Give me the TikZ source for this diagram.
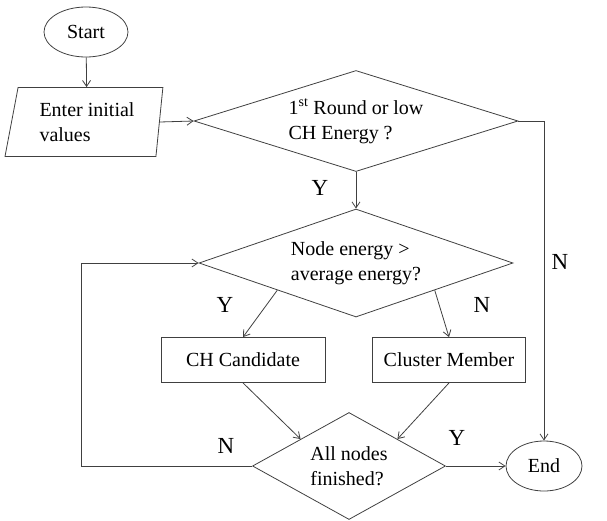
\documentclass[tikz,border=0pt]{standalone}
\usepackage{fontspec}
\setmainfont{Liberation Serif}
\usetikzlibrary{shapes.geometric,arrows.meta}
\begin{document}
\begin{tikzpicture}[x=1pt,y=-1pt,>={Straight Barb[length=6pt,width=8pt]},
	every node/.style={font=\fontsize{20}{25}\selectfont,inner sep=0pt},
	line/.style={draw=black!75,line width=0.8pt},
	terminal/.style={line,ellipse,minimum height=50},
	inout/.style={line,trapezium,trapezium left angle=77,trapezium right angle=97,
		trapezium stretches=true,minimum width=158,minimum height=69,align=left},
	decision/.style={line,diamond,align=left},
	process/.style={line,rectangle,minimum height=45},
	answer/.style={font=\fontsize{23}{27}\selectfont}]
\useasboundingbox (0,0) rectangle (607,520);
\node[terminal,minimum width=84] (start) at (86,32) {Start};
\node[inout] (init) at (87,122) {Enter initial\\values};
\node[decision,minimum width=324,minimum height=101,aspect=3.2] (round) at (356,121)
	{1\textsuperscript{st} Round or low\\CH Energy ?};
\node[decision,minimum width=314,minimum height=108,aspect=2.9] (energy) at (356,263)
	{Node energy >\\average energy?};
\node[process,minimum width=164] (cand) at (243,360) {CH Candidate};
\node[process,minimum width=153] (member) at (449,360) {Cluster Member};
\node[decision,minimum width=193,minimum height=107,aspect=1.8] (finish) at (349,466)
	{All nodes\\finished?};
\node[terminal,minimum width=76] (end) at (544,466) {End};
\coordinate (back) at (81,466);
% connectors
\draw[line,->] (start) -- (init);
\draw[line,->] (init.east) -- (round.west);
\draw[line,->] (round) -- (energy);
\draw[line,->] (round.east) -| (end.north);
\draw[line,->] (energy.south west) -- (cand.north);
\draw[line,->] (energy.south east) -- (member.north);
\draw[line,->] (cand.south) -- (finish.north west);
\draw[line,->] (member.south) -- (finish.north east);
\draw[line,->] (finish) -- (end);
\draw[line,->] (finish.west) -- (back) |- (energy.west);
% answers
\node[answer] (y1) at (320,188) {Y};
\node[answer] (n1) at (560,262) {N};
\node[answer] (y2) at (225,305) {Y};
\node[answer] (n2) at (482,305) {N};
\node[answer] (n3) at (226,446) {N};
\node[answer] (y3) at (457,438) {Y};
\end{tikzpicture}
\end{document}
